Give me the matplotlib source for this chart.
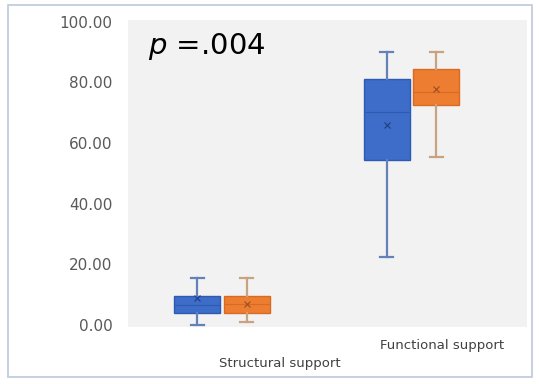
import matplotlib
matplotlib.use("Agg")
import matplotlib.pyplot as plt
from matplotlib.patches import Rectangle

# group names and per-series box statistics (percent)
categories = ["Structural support", "Functional support"]

blue_low = [0.0, 22.4]
blue_q1 = [4.0, 54.5]
blue_med = [6.5, 70.3]
blue_q3 = [9.6, 81.2]
blue_high = [15.5, 90.1]
blue_mean = [9.0, 66.0]

orange_low = [1.0, 55.4]
orange_q1 = [4.0, 72.6]
orange_med = [7.0, 76.9]
orange_q3 = [9.6, 84.5]
orange_high = [15.5, 90.1]
orange_mean = [7.0, 77.6]

y_ticks = [0, 20, 40, 60, 80, 100]
p_text = "=.004"


def make_stats(low, q1, med, q3, high, mean):
    stats = []
    for i in range(len(low)):
        stats.append(dict(whislo=low[i], q1=q1[i], med=med[i], q3=q3[i],
                          whishi=high[i], mean=mean[i], fliers=[]))
    return stats


fig = plt.figure(figsize=(5.39, 3.84), dpi=100)
fig.patch.set_facecolor("white")

# thin frame round the whole chart
fig.patches.append(Rectangle((8 / 539, 1 - 377 / 384), 524 / 539, 372 / 384,
                             transform=fig.transFigure, fill=False,
                             edgecolor="#bccadb", linewidth=1.2))

ax = fig.add_axes([128 / 539, 1 - 327 / 384, 399 / 539, 307 / 384])
ax.set_facecolor("#f2f2f2")

cat_x = list(range(len(categories)))
off = 0.13
bw = 0.243
cw = 0.069

series = [
    (make_stats(blue_low, blue_q1, blue_med, blue_q3, blue_high, blue_mean),
     -off, "#3d6cc9", "#2d5bb0", "#6481b8", "#1f3f80"),
    (make_stats(orange_low, orange_q1, orange_med, orange_q3, orange_high, orange_mean),
     off, "#ed7d31", "#d86a22", "#c9a281", "#9a5020"),
]

for stats, dx, fc, ec, wc, mc in series:
    pos = [c + dx for c in cat_x]
    ax.bxp(stats, positions=pos, widths=bw, capwidths=cw, showmeans=True,
           showfliers=False, patch_artist=True, manage_ticks=False,
           boxprops=dict(facecolor=fc, edgecolor=ec, linewidth=1.0),
           whiskerprops=dict(color=wc, linewidth=1.6),
           capprops=dict(color=wc, linewidth=1.6),
           medianprops=dict(color=ec, linewidth=0.8),
           meanprops=dict(marker="x", markeredgecolor=mc, markersize=5,
                          markeredgewidth=0.8))

ax.set_xlim(-0.496, 1.61)
ax.set_ylim(-0.66, 100.5)
ax.set_yticks(y_ticks)
ax.set_yticklabels([f"{v:.2f}" for v in y_ticks])
ax.tick_params(axis="y", length=0, pad=11, labelsize=11, labelcolor="#595959")
ax.set_xticks([])
for s in ax.spines.values():
    s.set_visible(False)

# staggered category labels under the plot area
label_dx = [0.306, 0.16]
label_dy = [-0.12, -0.06]
for i, name in enumerate(categories):
    ax.text(cat_x[i] + label_dx[i], label_dy[i], name,
            transform=ax.get_xaxis_transform(), ha="center", va="center",
            fontsize=9.5, color="#404040")

ax.text(0.05, 0.915, r"$\it{p}$ " + p_text, transform=ax.transAxes,
        fontsize=21, color="black", va="center", ha="left")
plt.rcParams["mathtext.fontset"] = "dejavusans"

fig.savefig("out.png", dpi=100)
